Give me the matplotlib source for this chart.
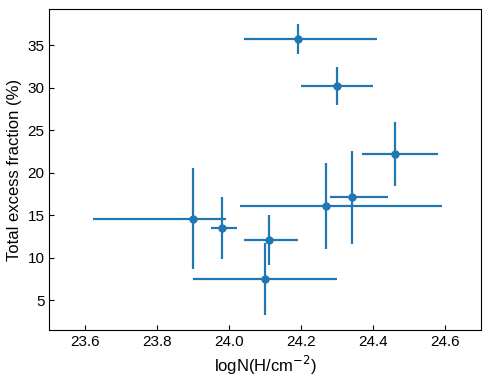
import matplotlib
matplotlib.use('Agg')
import matplotlib.pyplot as plt

plt.rcParams['font.family'] = ['Liberation Sans', 'DejaVu Sans']

# column density and total excess fraction, with asymmetric x errors
logN = [24.19, 24.30, 24.46, 24.34, 24.27, 23.90, 23.98, 24.11, 24.10]
logN_lo = [0.15, 0.10, 0.09, 0.06, 0.24, 0.28, 0.03, 0.07, 0.20]
logN_hi = [0.22, 0.10, 0.12, 0.10, 0.32, 0.09, 0.04, 0.08, 0.20]
frac = [35.7, 30.2, 22.2, 17.1, 16.1, 14.6, 13.5, 12.1, 7.5]
frac_err = [1.8, 2.2, 3.7, 5.5, 5.0, 5.9, 3.6, 2.9, 4.25]

fig = plt.figure(figsize=(4.9, 3.81), dpi=100)
ax = fig.add_axes([0.101, 0.134, 0.881, 0.842])

ax.errorbar(logN, frac, xerr=[logN_lo, logN_hi], yerr=frac_err,
            fmt='o', color='#1f77b4', markersize=5, elinewidth=1.6, capsize=0)

ax.set_xlim(23.5, 24.7)
ax.set_xlabel(r'logN(H/cm$^{-2}$)', fontsize=12)
ax.set_ylabel('Total excess fraction (%)', fontsize=12)
ax.tick_params(direction='in', labelsize=11)

plt.savefig('out.png', dpi=100)
